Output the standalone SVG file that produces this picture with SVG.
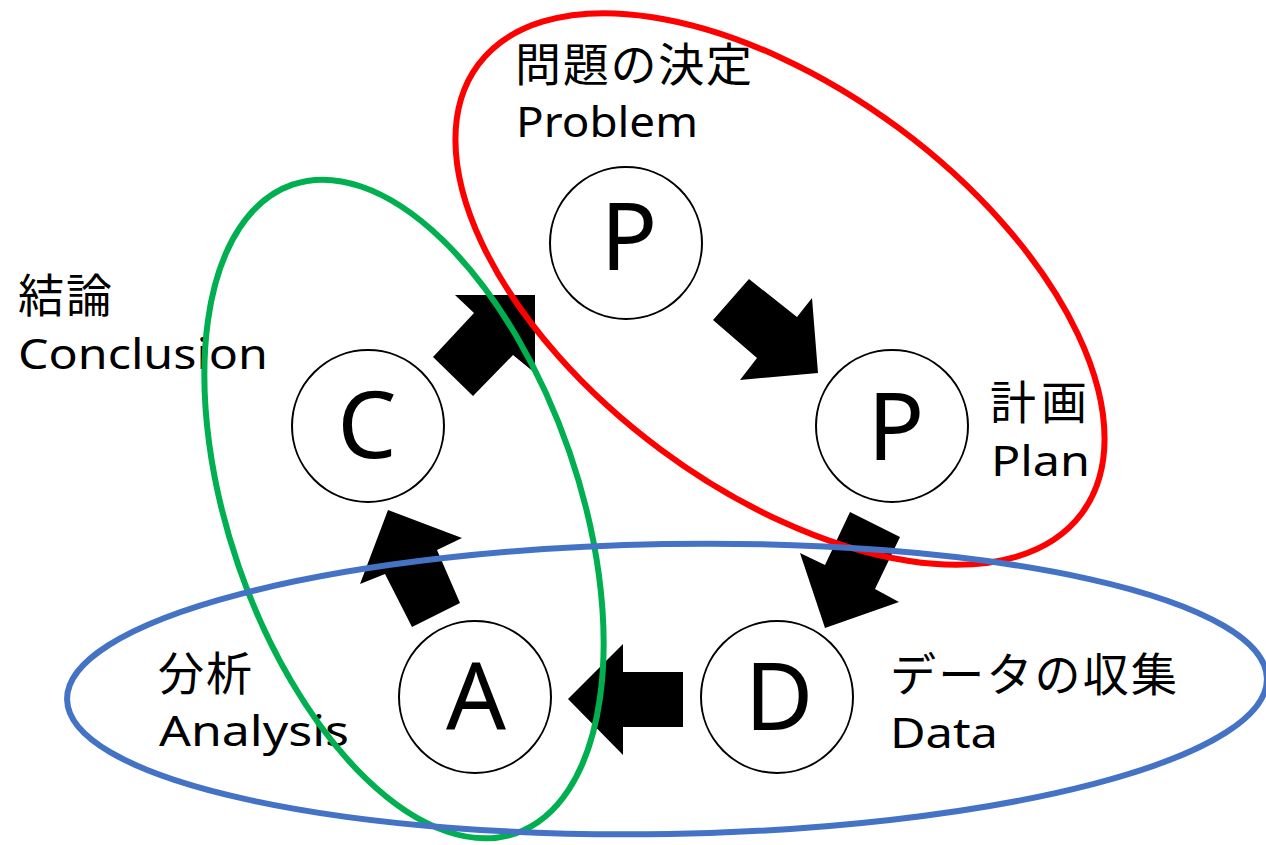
<svg xmlns="http://www.w3.org/2000/svg" width="1266" height="845" viewBox="0 0 1266 845">
<style>
.node circle{fill:#fff;stroke:#000;stroke-width:2}
.letter{font-family:"Noto Sans","Liberation Sans",sans-serif;font-size:94px;fill:#000;text-anchor:middle}
.jp{font-family:"Noto Sans CJK JP","Noto Sans",sans-serif;font-size:46px;fill:#000}
.en{font-family:"Noto Sans","Liberation Sans",sans-serif;font-size:42px;fill:#000}
.arrow{fill:#000;stroke:none}
.ring{fill:none;stroke-width:6}
</style>
<rect width="1266" height="845" fill="#fff"/>
<g id="node-p1" class="node">
  <circle cx="626" cy="243" r="76"/>
  <text class="letter" x="629" y="270">P</text>
</g>
<g id="node-p2" class="node">
  <circle cx="892" cy="426" r="76"/>
  <text class="letter" x="896" y="460">P</text>
</g>
<g id="node-d" class="node">
  <circle cx="777" cy="697" r="76"/>
  <text class="letter" x="779" y="730">D</text>
</g>
<g id="node-a" class="node">
  <circle cx="475" cy="697" r="76"/>
  <text class="letter" x="476" y="730">A</text>
</g>
<g id="node-c" class="node">
  <circle cx="368" cy="426" r="76"/>
  <text class="letter" x="367" y="458">C</text>
</g>
<g id="connectors">
  <polygon class="arrow" points="749,279 797,317 812,298 818,373 740,380 757,358 713,320"/>
  <polygon class="arrow" points="850,512 900,537 875,589 899,602 825,628 800,553 825,565"/>
  <polygon class="arrow" points="683,672 683,727 623,727 623,755 568,699 623,644 623,672"/>
  <polygon class="arrow" points="460,603 412,627 385,574 360,584 388,510 462,538 437,550"/>
  <polygon class="arrow" points="433,357 473,396 513,355 535,373 535,295 455,295 474,313"/>
</g>
<g id="labels">
  <text class="jp" x="515" y="81" textLength="237" lengthAdjust="spacing">問題の決定</text>
  <text class="en" x="516" y="137" textLength="182" lengthAdjust="spacingAndGlyphs">Problem</text>
  <text class="jp" x="18" y="312" textLength="94" lengthAdjust="spacing">結論</text>
  <text class="en" x="18" y="369" textLength="250" lengthAdjust="spacingAndGlyphs">Conclusion</text>
  <text class="jp" x="990" y="419" textLength="97" lengthAdjust="spacing">計画</text>
  <text class="en" x="991" y="476" textLength="99" lengthAdjust="spacingAndGlyphs">Plan</text>
  <text class="jp" x="158" y="690" textLength="94" lengthAdjust="spacing">分析</text>
  <text class="en" x="159" y="746" textLength="190" lengthAdjust="spacingAndGlyphs">Analysis</text>
  <text class="jp" x="890" y="691" textLength="287" lengthAdjust="spacing">データの収集</text>
  <text class="en" x="890" y="748" textLength="108" lengthAdjust="spacingAndGlyphs">Data</text>
</g>
<g id="groups">
  <ellipse class="ring" stroke="#FF0000" stroke-width="7" cx="780" cy="289" rx="376" ry="200" transform="rotate(36.6 780 289)"/>
  <ellipse class="ring" stroke="#00B050" cx="404" cy="509" rx="343" ry="175" transform="rotate(71 404 509)"/>
  <ellipse class="ring" stroke="#4472C4" cx="667" cy="689" rx="600" ry="145" transform="rotate(-1 667 689)"/>
</g>
</svg>
